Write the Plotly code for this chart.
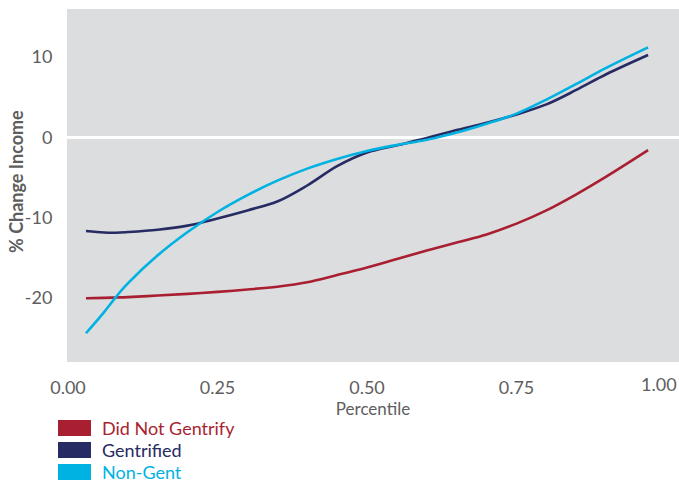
import plotly.graph_objects as go

percentile = [0.03, 0.06, 0.08, 0.10, 0.15, 0.20, 0.25, 0.30, 0.35, 0.40, 0.45,
              0.50, 0.55, 0.60, 0.65, 0.70, 0.75, 0.80, 0.85, 0.90, 0.97]

did_not_gentrify = [-20.05, -20.0, -19.95, -19.9, -19.7, -19.5, -19.25, -18.95, -18.6, -18.05, -17.15,
                    -16.2, -15.15, -14.1, -13.1, -12.1, -10.75, -9.1, -7.1, -4.9, -1.6]
gentrified = [-11.67, -11.85, -11.88, -11.8, -11.5, -11.0, -10.1, -9.1, -8.0, -6.0, -3.6,
              -1.9, -1.0, -0.1, 0.9, 1.8, 2.85, 4.1, 5.9, 7.85, 10.25]
non_gent = [-24.4, -21.8, -19.9, -18.2, -14.7, -11.8, -9.3, -7.2, -5.4, -3.9, -2.7,
            -1.7, -0.95, -0.3, 0.6, 1.7, 2.95, 4.7, 6.65, 8.65, 11.2]

series_names = ["Did Not Gentrify", "Gentrified", "Non-Gent"]
series_colors = ["#A91F32", "#262B63", "#00B2E2"]
series_values = [did_not_gentrify, gentrified, non_gent]

x_ticks = [0, 0.25, 0.5, 0.75]
x_tick_labels = ["0.00", "0.25", "0.50", "0.75"]
last_x_tick = 1.0
last_x_label = "1.00"
y_ticks = [-20, -10, 0, 10]
y_tick_labels = ["-20", "-10", "0", "10"]
x_title = "Percentile"
y_title = "<b>% Change Income</b>"

FONT = "Lato, 'Open Sans', sans-serif"
GRAY = "#5E5E5E"

fig = go.Figure()
for name, color, vals in zip(series_names, series_colors, series_values):
    fig.add_trace(go.Scatter(x=percentile, y=vals, mode="lines", name=name,
                             line=dict(color=color, width=2.6, shape="spline", smoothing=1.0),
                             showlegend=False, hoverinfo="skip"))

fig.update_layout(
    width=679, height=482,
    margin=dict(l=67, r=0, t=9, b=120),
    paper_bgcolor="white",
    plot_bgcolor="#DCDDDF",
    font=dict(family=FONT, color=GRAY),
    xaxis=dict(range=[-0.0017, 1.0217], tickvals=x_ticks, ticktext=x_tick_labels,
               showgrid=False, zeroline=False, showline=False,
               ticks="outside", ticklen=9, tickcolor="rgba(0,0,0,0)",
               tickfont=dict(size=18, color=GRAY, family=FONT),
               title=dict(text=x_title, font=dict(size=17, color=GRAY, family=FONT), standoff=6)),
    yaxis=dict(range=[-27.98, 15.98], tickvals=y_ticks, ticktext=y_tick_labels,
               showgrid=False, zeroline=True, zerolinecolor="white", zerolinewidth=2.5,
               showline=False,
               ticks="outside", ticklen=10, tickcolor="rgba(0,0,0,0)",
               tickfont=dict(size=18, color=GRAY, family=FONT)),
)

# y axis title
fig.add_annotation(xref="paper", yref="paper", x=-0.0833, y=0.51, xanchor="center", yanchor="middle",
                   textangle=-90, text=y_title, showarrow=False,
                   font=dict(size=18, color=GRAY, family=FONT))

# last x tick label, placed to stay inside the window
fig.add_annotation(x=last_x_tick, xref="x", y=0, yref="paper", yanchor="top", yshift=-9,
                   xanchor="center", xshift=-7, text=last_x_label, showarrow=False,
                   font=dict(size=18, color=GRAY, family=FONT))

# legend with rectangles
legend_y = [(-0.1643, -0.2096), (-0.2266, -0.2720), (-0.2890, -0.3343)]
for name, color, (y0, y1) in zip(series_names, series_colors, legend_y):
    fig.add_shape(type="rect", xref="paper", yref="paper", x0=-0.0147, x1=0.0392,
                  y0=y1, y1=y0, fillcolor=color, line=dict(width=0))
    fig.add_annotation(xref="paper", yref="paper", x=0.0539, y=(y0 + y1) / 2,
                       xanchor="left", yanchor="middle", text=name, showarrow=False,
                       font=dict(size=18, color=color, family=FONT))

fig.write_html("out.html", config={"displayModeBar": False},
               post_script="document.body.style.margin='0';document.body.style.overflow='hidden';")
